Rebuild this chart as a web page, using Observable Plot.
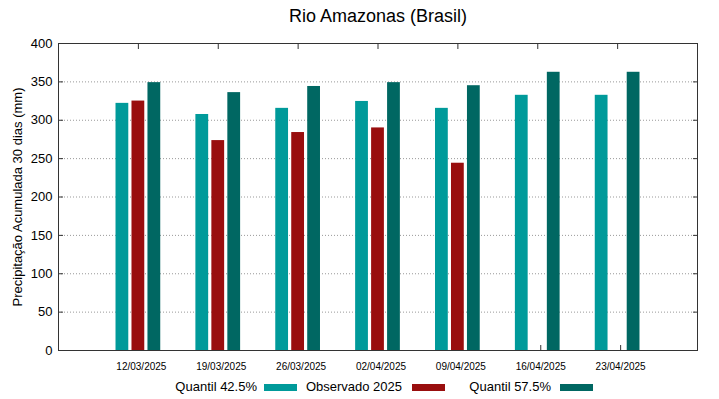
<!DOCTYPE html>
<html>
<head>
<meta charset="utf-8">
<script src="https://cdn.jsdelivr.net/npm/d3@7"></script>
<script src="https://cdn.jsdelivr.net/npm/@observablehq/plot@0.6"></script>
<style>
  html, body { margin: 0; padding: 0; background: #fff; }
  #wrap { position: relative; width: 719px; height: 399px; font-family: "Liberation Sans", Arial, sans-serif; color: #000; }
  #wrap svg { position: absolute; left: 0; top: 0; }
  .lg { position: absolute; font-size: 13px; line-height: 15px; white-space: nowrap; }
  .lgt { text-align: right; }
  .sw { position: absolute; width: 33px; height: 7px; }
</style>
</head>
<body>
<div id="wrap"></div>
<script>
const dates = ["12/03/2025","19/03/2025","26/03/2025","02/04/2025","09/04/2025","16/04/2025","23/04/2025"];
const quantil425 = [322, 307.5, 315.5, 324.5, 315.5, 332.5, 332.5];
const observado2025 = [325, 273.5, 284, 290, 244, null, null];
const quantil575 = [349, 336, 344, 349, 345, 362.5, 362.5];
const seriesNames = ["Quantil 42.5%", "Observado 2025", "Quantil 57.5%"];
const seriesColors = ["#009a9a", "#990e0e", "#006762"];
const yTicks = [0, 50, 100, 150, 200, 250, 300, 350, 400];
const title = "Rio Amazonas (Brasil)";
const yLabel = "Precipitação Acumulada 30 dias (mm)";

const seriesValues = [quantil425, observado2025, quantil575];
const offsets = [-0.2, 0, 0.2];
const barW = 0.16;
const rows = [];
seriesValues.forEach((vals, s) => vals.forEach((v, i) => {
  if (v != null) rows.push({i, s, value: v});
}));

const font = "'Liberation Sans', Arial, sans-serif";
const none = () => "";
const chart = Plot.plot({
  width: 719, height: 399,
  marginTop: 43, marginBottom: 49, marginLeft: 58, marginRight: 22,
  style: {fontFamily: font, background: "transparent", color: "#000"},
  x: {type: "linear", domain: [-1, 7]},
  y: {domain: [0, 400]},
  marks: [
    Plot.gridY(yTicks.slice(1, -1), {stroke: "#999", strokeOpacity: 1, strokeDasharray: "1,2"}),
    Plot.axisY({ticks: yTicks, tickSize: -5, tickPadding: 11, fontSize: 13, label: null, stroke: "#333"}),
    Plot.axisY({anchor: "right", ticks: yTicks, tickSize: -5, tickFormat: none, label: null, stroke: "#333"}),
    Plot.axisX({ticks: d3.range(dates.length), tickSize: -5, tickPadding: 17, fontSize: 10, dx: 3, tickFormat: i => dates[i], label: null, stroke: "#333"}),
    Plot.axisX({anchor: "top", ticks: d3.range(dates.length), tickSize: -5, tickFormat: none, label: null, stroke: "#333"}),
    Plot.rect(rows, {
      x1: d => d.i + offsets[d.s] - barW / 2,
      x2: d => d.i + offsets[d.s] + barW / 2,
      y1: 0, y2: "value",
      fill: d => seriesColors[d.s]
    }),
    Plot.frame({stroke: "#333"}),
    Plot.text([title], {frameAnchor: "top", dy: -27, fontSize: 18, lineAnchor: "middle", text: d => d}),
    Plot.text([yLabel], {frameAnchor: "left", dx: -41, rotate: -90, textAnchor: "middle", lineAnchor: "middle", fontSize: 13, text: d => d})
  ]
});
const wrap = document.getElementById("wrap");
wrap.appendChild(chart);

// legend
const textRight = [257, 402, 551];
const swLeft = [264, 412, 560];
seriesNames.forEach((name, k) => {
  const t = document.createElement("div");
  t.className = "lg lgt";
  t.textContent = name;
  t.style.right = (719 - textRight[k]) + "px";
  t.style.top = "379px";
  wrap.appendChild(t);
  const sw = document.createElement("div");
  sw.className = "sw";
  sw.style.left = swLeft[k] + "px";
  sw.style.top = "384px";
  sw.style.background = seriesColors[k];
  wrap.appendChild(sw);
});
</script>
</body>
</html>
